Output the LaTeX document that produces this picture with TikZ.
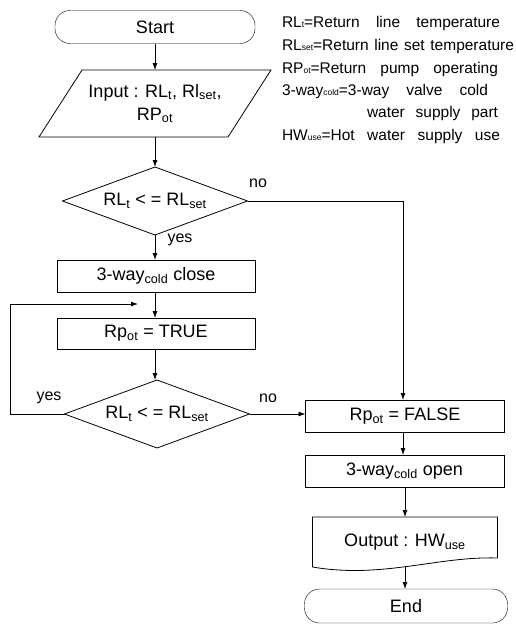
\documentclass[tikz,border=0pt]{standalone}
\usepackage{fontspec}
\setmainfont{Liberation Sans}
\newfontfamily\legfont{Liberation Sans}
\usetikzlibrary{arrows.meta,calc}
\newcommand{\legsp}{\spaceskip=4pt plus 30pt minus 1pt\relax}
\newcommand{\lsub}[1]{\raisebox{-0.5pt}{\fontsize{8.5}{9}\selectfont #1}}
\newcommand{\legline}[2]{\legsp\makebox[#1][s]{#2}}
\begin{document}
\begin{tikzpicture}[x=1pt,y=-1pt,
  every node/.style={font=\fontsize{18}{23}\selectfont, inner sep=0pt, outer sep=0pt},
  boxnode/.style={draw, rectangle, minimum width=198pt, minimum height=32pt},
  termnode/.style={draw, rectangle, rounded corners=15pt, minimum width=200pt, minimum height=33pt},
  decnode/.style={minimum width=185pt, minimum height=68pt},
  lab/.style={font=\fontsize{16}{18}\selectfont},
  leg/.style={font=\legfont\fontsize{15.5}{17}\selectfont, anchor=base west},
  flow/.style={line width=0.8pt},
  arr/.style={flow, -{Latex[length=7pt,width=5pt]}}]
\useasboundingbox (0,0) rectangle (515,624);

% legend
\node[leg] (l1) at (282,27) {\legline{218pt}{RL\lsub{t}=Return line temperature}};
\node[leg] (l2) at (282,50) {\legline{232pt}{RL\lsub{set}=Return line set temperature}};
\node[leg] (l3) at (282,73) {\legline{216pt}{RP\lsub{ot}=Return pump operating}};
\node[leg] (l4) at (282,95) {\legline{206pt}{3-way\lsub{cold}=3-way valve cold}};
\node[leg] (l5) at (367,117) {\legline{131pt}{water supply part}};
\node[leg] (l6) at (282,140) {\legline{218pt}{HW\lsub{use}=Hot water supply use}};

% left column
\node[termnode] (start) at (155,27) {Start};
\node[minimum width=232pt, minimum height=67pt, align=center] (in) at (155,103.5)
  {Input : RL\textsubscript{t}, Rl\textsubscript{set},\\RP\textsubscript{ot}};
\draw[flow] (39,137) -- (228,137) -- (271,70) -- (82,70) -- cycle;
\node[decnode] (d1) at (155,201) {RL\textsubscript{t} < = RL\textsubscript{set}};
\draw[flow] (d1.north) -- (d1.east) -- (d1.south) -- (d1.west) -- cycle;
\node[boxnode] (close) at (156,276) {3-way\textsubscript{cold} close};
\node[boxnode, minimum height=31pt] (true) at (156,333.5) {Rp\textsubscript{ot} = TRUE};
\node[decnode] (d2) at (157,414) {RL\textsubscript{t} < = RL\textsubscript{set}};
\draw[flow] (d2.north) -- (d2.east) -- (d2.south) -- (d2.west) -- cycle;

% right column
\node[boxnode, minimum width=199pt] (false) at (405,416) {Rp\textsubscript{ot} = FALSE};
\node[boxnode, minimum width=199pt] (open) at (404.5,471) {3-way\textsubscript{cold} open};
\node[minimum width=185pt, minimum height=50pt] (out) at (405,542) {Output : HW\textsubscript{use}};
\draw[flow] (out.south west) -- (out.north west) -- (out.north east) -- ($(out.south east)+(0,-9)$)
  .. controls ($(out.south east)+(-60,-11)$) and ($(out.south west)+(70,12)$) .. (out.south west);
\node[termnode, minimum width=203pt, minimum height=34pt] (end) at (406,606) {End};

% connectors
\draw[arr] (start.south) -- (start.south |- in.north);
\draw[arr] (in.south) -- (in.south |- d1.north);
\draw[arr] (d1.south) -- (d1.south |- close.north);
\draw[arr] (d1.south |- close.south) -- (d1.south |- true.north);
\draw[arr] (d1.south |- true.south) -- (d1.south |- d2.north);
\coordinate (lc) at (10,304);
\coordinate (lp) at (138,304);
\draw[flow] (d2.west) -| (lc);
\draw[arr] (lc) -- (lp);
\draw[arr] (d1.east) -| (403,400);
\draw[arr] (d2.east) -- (d2.east -| false.west);
\draw[arr] (403,432) -- (403,455);
\draw[arr] (405,487) -- (405,517);
\draw[arr] (405,567) -- (405,589);

% labels
\node[lab] (no1) at (258,183) {no};
\node[lab] (yes1) at (180,240) {yes};
\node[lab] (yes2) at (49,398) {yes};
\node[lab] (no2) at (268,398) {no};
\end{tikzpicture}
\end{document}
